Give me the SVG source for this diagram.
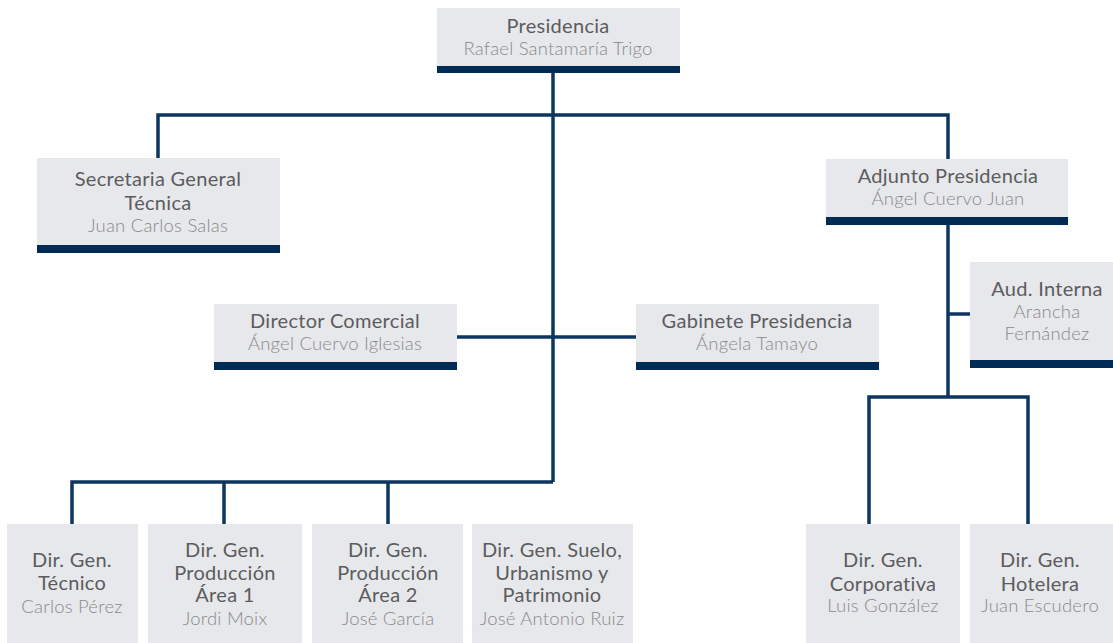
<svg xmlns="http://www.w3.org/2000/svg" width="1113" height="643" viewBox="0 0 1113 643">
<style>
.box{fill:#e6e8ec}
.bar{fill:#002b55}
.ln{stroke:#0c3560;stroke-width:3.5;fill:none}
text{font-family:Lato,"Open Sans","Liberation Sans",sans-serif;text-anchor:middle}
.t{font-size:20px;fill:#5c5c5c;font-weight:400;letter-spacing:0.3px}
.n{font-size:18.5px;fill:#8a8a8a;font-weight:300;letter-spacing:0.2px}
</style>
<rect width="1113" height="643" fill="#ffffff"/>
<g id="connectors">
<path class="ln" d="M553 73V482"/>
<path class="ln" d="M158 158V115H948V159"/>
<path class="ln" d="M457 337H636"/>
<path class="ln" d="M948 225V397"/>
<path class="ln" d="M948 314H970"/>
<path class="ln" d="M869 524V397H1028V524"/>
<path class="ln" d="M72 524V482H553"/>
<path class="ln" d="M224 482V524"/>
<path class="ln" d="M388 482V524"/>
</g>
<g id="presidencia">
<rect class="box" x="437" y="8" width="243" height="58"/>
<rect class="bar" x="437" y="66" width="243" height="7"/>
<text class="t" x="558" y="33">Presidencia</text>
<text class="n" x="558" y="55">Rafael Santamaría Trigo</text>
</g>
<g id="secretaria">
<rect class="box" x="37" y="158" width="243" height="87"/>
<rect class="bar" x="37" y="245" width="243" height="8"/>
<text class="t" x="158" y="186">Secretaria General</text>
<text class="t" x="158" y="210">Técnica</text>
<text class="n" x="158" y="232">Juan Carlos Salas</text>
</g>
<g id="adjunto">
<rect class="box" x="826" y="159" width="242" height="58"/>
<rect class="bar" x="826" y="217" width="242" height="8"/>
<text class="t" x="948" y="183">Adjunto Presidencia</text>
<text class="n" x="948" y="205">Ángel Cuervo Juan</text>
</g>
<g id="aud-interna">
<rect class="box" x="970" y="262" width="143" height="98"/>
<rect class="bar" x="970" y="360" width="143" height="8"/>
<text class="t" x="1047" y="296">Aud. Interna</text>
<text class="n" x="1047" y="318">Arancha</text>
<text class="n" x="1047" y="340">Fernández</text>
</g>
<g id="director-comercial">
<rect class="box" x="214" y="304" width="243" height="58"/>
<rect class="bar" x="214" y="362" width="243" height="8"/>
<text class="t" x="335" y="328">Director Comercial</text>
<text class="n" x="335" y="350">Ángel Cuervo Iglesias</text>
</g>
<g id="gabinete">
<rect class="box" x="636" y="304" width="243" height="58"/>
<rect class="bar" x="636" y="362" width="243" height="8"/>
<text class="t" x="757" y="328">Gabinete Presidencia</text>
<text class="n" x="757" y="350">Ángela Tamayo</text>
</g>
<g id="dg-tecnico">
<rect class="box" x="7" y="524" width="131" height="119"/>
<text class="t" x="72" y="567">Dir. Gen.</text>
<text class="t" x="72" y="590">Técnico</text>
<text class="n" x="72" y="613">Carlos Pérez</text>
</g>
<g id="dg-produccion-1">
<rect class="box" x="148" y="524" width="154" height="119"/>
<text class="t" x="225" y="557">Dir. Gen.</text>
<text class="t" x="225" y="580">Producción</text>
<text class="t" x="225" y="602">Área 1</text>
<text class="n" x="225" y="625">Jordi Moix</text>
</g>
<g id="dg-produccion-2">
<rect class="box" x="312" y="524" width="151" height="119"/>
<text class="t" x="388" y="557">Dir. Gen.</text>
<text class="t" x="388" y="580">Producción</text>
<text class="t" x="388" y="602">Área 2</text>
<text class="n" x="388" y="625">José García</text>
</g>
<g id="dg-suelo">
<rect class="box" x="472" y="524" width="161" height="119"/>
<text class="t" x="552" y="557">Dir. Gen. Suelo,</text>
<text class="t" x="552" y="580">Urbanismo y</text>
<text class="t" x="552" y="602">Patrimonio</text>
<text class="n" x="552" y="625">José Antonio Ruiz</text>
</g>
<g id="dg-corporativa">
<rect class="box" x="806" y="524" width="154" height="119"/>
<text class="t" x="883" y="567">Dir. Gen.</text>
<text class="t" x="883" y="591">Corporativa</text>
<text class="n" x="883" y="612">Luis González</text>
</g>
<g id="dg-hotelera">
<rect class="box" x="970" y="524" width="143" height="119"/>
<text class="t" x="1040" y="567">Dir. Gen.</text>
<text class="t" x="1040" y="591">Hotelera</text>
<text class="n" x="1040" y="612">Juan Escudero</text>
</g>
</svg>
